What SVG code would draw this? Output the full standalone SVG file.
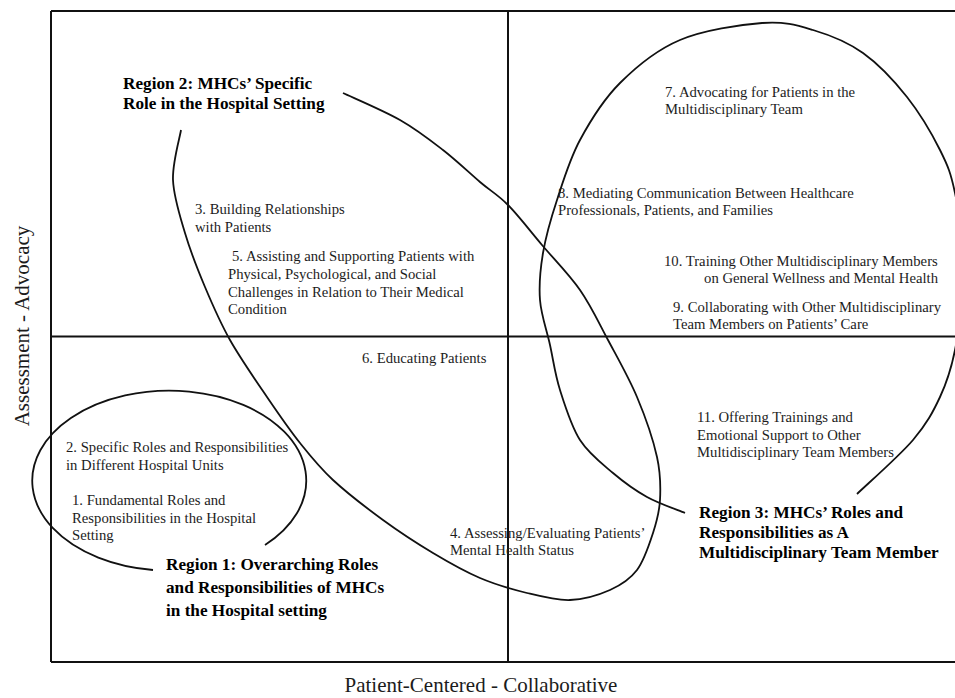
<svg xmlns="http://www.w3.org/2000/svg" width="955" height="698" viewBox="0 0 955 698">
<style>
.frame{fill:none;stroke:#111;stroke-width:2}
.curve{fill:none;stroke:#111;stroke-width:1.8}
.t{font-family:"Liberation Serif","Times New Roman",serif;font-size:14.7px;fill:#1c1c1c}
.r{font-family:"Liberation Serif","Times New Roman",serif;font-size:17.2px;font-weight:bold;fill:#000}
.ax{font-family:"Liberation Serif","Times New Roman",serif;font-size:21px;fill:#1c1c1c}
</style>
<rect width="955" height="698" fill="#fff"/>
<g id="grid">
<path class="frame" d="M51,11 H960 M51,662 H960 M51,11 V662 M51,336.5 H960 M508,11 V662"/>
</g>
<g id="axes">
<text class="ax" x="481" y="692" text-anchor="middle">Patient-Centered - Collaborative</text>
<text class="ax" transform="translate(29,326) rotate(-90)" text-anchor="middle">Assessment - Advocacy</text>
</g>
<g id="connectors">
<path id="region1-outline" class="curve" d="M265,545 A137,90 0 1 0 153,570"/>
<path id="region2-outline" class="curve" d="M181,130 C179.7,138.3 172.3,162.8 173,180 C173.7,197.2 179.7,215.2 185,233 C190.3,250.8 197.5,269.2 205,287 C212.5,304.8 219.7,321.7 230,340 C240.3,358.3 255.3,379.8 267,397 C278.7,414.2 289,429.2 300,443 C311,456.8 319.2,467.2 333,480 C346.8,492.8 366.3,507.8 383,520 C399.7,532.2 416.8,543.3 433,553 C449.2,562.7 464.3,571.3 480,578 C495.7,584.7 512,589.3 527,593 C542,596.7 556.2,600.5 570,600 C583.8,599.5 598.8,595 610,590 C621.2,585 629.8,579.5 637,570 C644.2,560.5 649.2,544.7 653,533 C656.8,521.3 659.3,512.7 660,500 C660.7,487.3 660.8,474.2 657,457 C653.2,439.8 645.2,416.5 637,397 C628.8,377.5 617.5,357.8 608,340 C598.5,322.2 591,305.8 580,290 C569,274.2 554,259.2 542,245 C530,230.8 518.3,215.5 508,205 C497.7,194.5 490.8,191.2 480,182 C469.2,172.8 456.3,160.3 443,150 C429.7,139.7 416.7,129.5 400,120 C383.3,110.5 352.5,97.5 343,93"/>
<path id="region3-outline" class="curve" d="M685,513 C678.7,510.3 659,503.7 647,497 C635,490.3 624.2,482.5 613,473 C601.8,463.5 588.8,453.8 580,440 C571.2,426.2 565,405.8 560,390 C555,374.2 553.3,360 550,345 C546.7,330 541.2,315.3 540,300 C538.8,284.7 540.2,269.7 543,253 C545.8,236.3 550.8,218.8 557,200 C563.2,181.2 569.5,159.5 580,140 C590.5,120.5 603.3,99.7 620,83 C636.7,66.3 656.3,50 680,40 C703.7,30 739.8,24.7 762,23 C784.2,21.3 796.2,25 813,30 C829.8,35 847.3,41.8 863,53 C878.7,64.2 894.2,80.8 907,97 C919.8,113.2 932,134 940,150 C948,166 950.8,173 955,193 C959.2,213 965,243.8 965,270 C965,296.2 959.2,328.8 955,350 C950.8,371.2 947,382 940,397 C933,412 926.8,423.8 913,440 C899.2,456.2 866.3,485 857,494"/>
</g>
<g id="region1-label"><text class="r" x="166" y="570">Region 1: Overarching Roles</text><text class="r" x="166" y="592.5">and Responsibilities of MHCs</text><text class="r" x="166" y="615.5">in the Hospital setting</text></g>
<g id="region2-label"><text class="r" x="123" y="89">Region 2: MHCs’ Specific</text><text class="r" x="123" y="109">Role in the Hospital Setting</text></g>
<g id="region3-label"><text class="r" x="699" y="517.5">Region 3: MHCs’ Roles and</text><text class="r" x="699" y="537.5">Responsibilities as A</text><text class="r" x="699" y="557.5">Multidisciplinary Team Member</text></g>
<g id="item1"><text class="t" x="72" y="505">1. Fundamental Roles and</text><text class="t" x="72" y="523">Responsibilities in the Hospital</text><text class="t" x="72" y="540">Setting</text></g>
<g id="item2"><text class="t" x="66" y="452">2. Specific Roles and Responsibilities</text><text class="t" x="66" y="469.5">in Different Hospital Units</text></g>
<g id="item3"><text class="t" x="195" y="214">3. Building Relationships</text><text class="t" x="195" y="232">with Patients</text></g>
<g id="item4"><text class="t" x="450" y="538">4. Assessing/Evaluating Patients’</text><text class="t" x="450" y="555">Mental Health Status</text></g>
<g id="item5"><text class="t" x="232" y="261">5. Assisting and Supporting Patients with</text><text class="t" x="228" y="279">Physical, Psychological, and Social</text><text class="t" x="228" y="297">Challenges in Relation to Their Medical</text><text class="t" x="228" y="314">Condition</text></g>
<g id="item6"><text class="t" x="362" y="363">6. Educating Patients</text></g>
<g id="item7"><text class="t" x="665" y="97">7. Advocating for Patients in the</text><text class="t" x="665" y="114">Multidisciplinary Team</text></g>
<g id="item8"><text class="t" x="558" y="198">8. Mediating Communication Between Healthcare</text><text class="t" x="558" y="215">Professionals, Patients, and Families</text></g>
<g id="item10"><text class="t" x="664" y="266">10. Training Other Multidisciplinary Members</text><text class="t" x="938" y="282.5" text-anchor="end">on General Wellness and Mental Health</text></g>
<g id="item9"><text class="t" x="673" y="312">9. Collaborating with Other Multidisciplinary</text><text class="t" x="673" y="328.5">Team Members on Patients’ Care</text></g>
<g id="item11"><text class="t" x="697" y="422">11. Offering Trainings and</text><text class="t" x="697" y="439.5">Emotional Support to Other</text><text class="t" x="697" y="457">Multidisciplinary Team Members</text></g>
</svg>
